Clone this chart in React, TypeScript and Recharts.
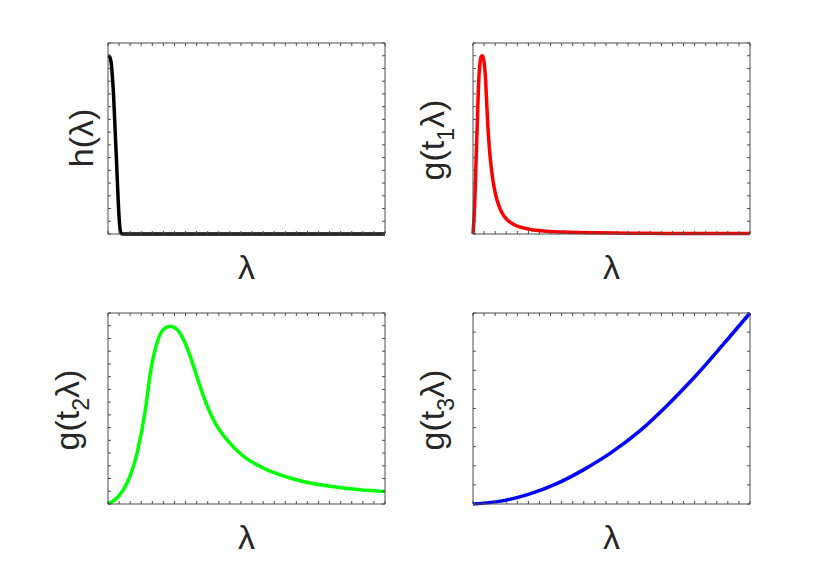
import React from 'react';
import { LineChart, Line, XAxis, YAxis } from 'recharts';

// ---- data ----
const hLambda = [0, 0.004, 0.008, 0.012, 0.016, 0.02, 0.024, 0.028, 0.032, 0.036, 0.04, 0.044, 0.048, 0.052, 0.1, 0.2, 0.3, 0.4, 0.5, 0.6, 0.7, 0.8, 0.9, 1];
const hValues = [2.8, 2.79, 2.76, 2.67, 2.46, 2.19, 1.8, 1.41, 1.02, 0.6, 0.27, 0.06, 0.01, 0, 0, 0, 0, 0, 0, 0, 0, 0, 0, 0];

const g1Lambda = [0, 0.006, 0.011, 0.016, 0.02, 0.025, 0.03, 0.035, 0.04, 0.045, 0.049, 0.054, 0.059, 0.065, 0.072, 0.081, 0.093, 0.105, 0.123, 0.147, 0.177, 0.207, 0.267, 0.327, 0.447, 0.567, 0.688, 1];
const g1Values = [0, 0.45, 1.14, 1.8, 2.34, 2.67, 2.79, 2.8, 2.7, 2.46, 2.1, 1.68, 1.35, 1.08, 0.84, 0.63, 0.45, 0.33, 0.225, 0.15, 0.1, 0.072, 0.045, 0.03, 0.018, 0.012, 0.009, 0.006];

const g2Lambda = [0, 0.038, 0.069, 0.105, 0.135, 0.153, 0.177, 0.2, 0.225, 0.249, 0.273, 0.297, 0.321, 0.345, 0.381, 0.429, 0.489, 0.549, 0.609, 0.669, 0.729, 0.79, 0.85, 0.91, 1];
const g2Values = [0, 0.12, 0.33, 0.8, 1.48, 2.06, 2.53, 2.74, 2.79, 2.74, 2.58, 2.32, 2.0, 1.69, 1.32, 1.01, 0.75, 0.59, 0.476, 0.393, 0.33, 0.287, 0.251, 0.225, 0.198];

const g3Lambda = [0, 0.1, 0.2, 0.3, 0.4, 0.5, 0.6, 0.7, 0.8, 0.9, 1];
const g3Values = [0, 0.015, 0.05, 0.105, 0.18, 0.27, 0.38, 0.515, 0.665, 0.83, 1];

const xTicks = [0, 0.04, 0.08, 0.12, 0.16, 0.2, 0.24, 0.28, 0.32, 0.36, 0.4, 0.44, 0.48, 0.52, 0.56, 0.6, 0.64, 0.68, 0.72, 0.76, 0.8, 0.84, 0.88, 0.92, 0.96, 1];
const yTicksA = [0, 0.2, 0.4, 0.6, 0.8, 1, 1.2, 1.4, 1.6, 1.8, 2, 2.2, 2.4, 2.6, 2.8, 3];
const yTicksB = [0, 0.1, 0.2, 0.3, 0.4, 0.5, 0.6, 0.7, 0.8, 0.9, 1];

const build = (xs: number[], ys: number[]) => xs.map((x, i) => ({ x, y: ys[i] }));

const PW = 277;
const PH = 191;
const M = 10;
const AX = '#4d4d4d';
const FONT = '"Liberation Sans", Arial, Helvetica, sans-serif';
const TXT = '#262626';
const TS = 3;

const noLabel = () => <g />;

function Panel(props: { data: { x: number; y: number }[]; color: string; yDomain: number[]; yTicks: number[]; left: number; top: number }) {
  const { data, color, yDomain, yTicks, left, top } = props;
  const ax = { stroke: AX, strokeWidth: 1 };
  return (
    <div style={{ position: 'absolute', left: left - M, top: top - M }}>
      <LineChart width={PW + 2 * M} height={PH + 2 * M} data={data} margin={{ top: M, right: M, bottom: M, left: M - 1 }}>
        <XAxis xAxisId="b" dataKey="x" type="number" domain={[0, 1]} ticks={xTicks} interval={0} orientation="bottom" mirror tick={noLabel} tickSize={TS} height={1} axisLine={ax} tickLine={ax} />
        <XAxis xAxisId="t" dataKey="x" type="number" domain={[0, 1]} ticks={xTicks} interval={0} orientation="top" mirror tick={noLabel} tickSize={TS} height={1} allowDataOverflow axisLine={ax} tickLine={ax} />
        <YAxis yAxisId="l" dataKey="y" type="number" domain={yDomain} ticks={yTicks} interval={0} orientation="left" tick={noLabel} tickSize={-TS} width={1} axisLine={ax} tickLine={ax} />
        <YAxis yAxisId="r" dataKey="y" type="number" domain={yDomain} ticks={yTicks} interval={0} orientation="right" mirror tick={noLabel} tickSize={TS} width={1} allowDataOverflow axisLine={ax} tickLine={ax} />
        <Line xAxisId="b" yAxisId="l" dataKey="y" type="monotone" stroke={color} strokeWidth={3.5} dot={false} isAnimationActive={false} />
      </LineChart>
    </div>
  );
}

function YLabel(props: { x: number; y: number; main: string; sub?: string }) {
  const { x, y, main, sub } = props;
  return (
    <text transform={`translate(${x},${y}) rotate(-90)`} textAnchor="middle" fontSize={34} fontFamily={FONT} fill={TXT}>
      {sub ? (
        <>
          {main}
          <tspan fontSize={23} dy={10}>{sub}</tspan>
          <tspan dy={-10}>λ)</tspan>
        </>
      ) : (
        main
      )}
    </text>
  );
}

export default function App() {
  const L1 = 108, L2 = 473, T1 = 43, T2 = 313;
  return (
    <div style={{ position: 'absolute', left: 0, top: 0, width: 830, height: 571, background: '#fff' }}>
      <Panel data={build(hLambda, hValues)} color="#000000" yDomain={[0, 3]} yTicks={yTicksA} left={L1} top={T1} />
      <Panel data={build(g1Lambda, g1Values)} color="#ff0000" yDomain={[0, 3]} yTicks={yTicksA} left={L2} top={T1} />
      <Panel data={build(g2Lambda, g2Values)} color="#00ff00" yDomain={[0, 3]} yTicks={yTicksA} left={L1} top={T2} />
      <Panel data={build(g3Lambda, g3Values)} color="#0000ff" yDomain={[0, 1]} yTicks={yTicksB} left={L2} top={T2} />
      <svg width={830} height={571} style={{ position: 'absolute', left: 0, top: 0, pointerEvents: 'none' }}>
        <YLabel x={93} y={138} main="h(λ)" />
        <YLabel x={444} y={140} main="g(t" sub="1" />
        <YLabel x={79} y={410} main="g(t" sub="2" />
        <YLabel x={444} y={410} main="g(t" sub="3" />
        <text x={L1 + PW / 2} y={279} textAnchor="middle" fontSize={34} fontFamily={FONT} fill={TXT}>λ</text>
        <text x={L2 + PW / 2} y={279} textAnchor="middle" fontSize={34} fontFamily={FONT} fill={TXT}>λ</text>
        <text x={L1 + PW / 2} y={549} textAnchor="middle" fontSize={34} fontFamily={FONT} fill={TXT}>λ</text>
        <text x={L2 + PW / 2} y={549} textAnchor="middle" fontSize={34} fontFamily={FONT} fill={TXT}>λ</text>
      </svg>
    </div>
  );
}
